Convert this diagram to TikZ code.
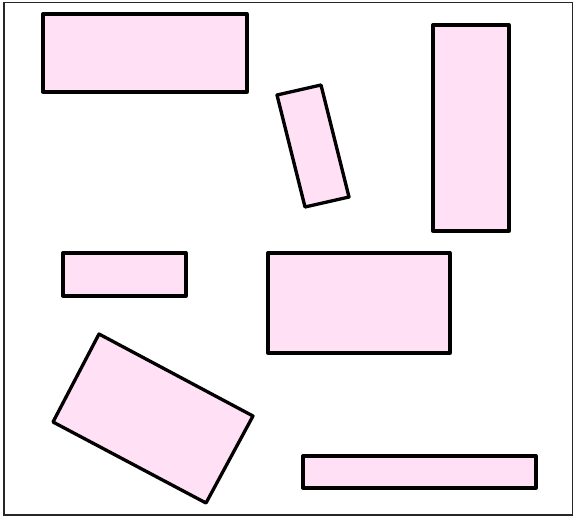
\documentclass[tikz,border=0pt]{standalone}
\begin{document}
\begin{tikzpicture}[x=1pt,y=-1pt,
  shapebox/.style={draw=black,fill=pinkfill,line width=3.3pt,line join=round},
  frame/.style={draw=black!85,line width=1.8pt}]
\definecolor{pinkfill}{HTML}{FFE0F5}
\useasboundingbox (0,0) rectangle (575,517);
\draw[frame] (4,2.5) rectangle (572.5,515);
\draw[shapebox] (43,14) rectangle (247,92);
\draw[shapebox] (277,95) -- (321,85) -- (349,197) -- (305,207) -- cycle;
\draw[shapebox] (433,25) rectangle (509,231);
\draw[shapebox] (63,253) rectangle (186,296);
\draw[shapebox] (268,253) rectangle (450,353);
\draw[shapebox] (99,334) -- (253,416) -- (206,503) -- (53,422) -- cycle;
\draw[shapebox] (303,456) rectangle (536,488);
\end{tikzpicture}
\end{document}
